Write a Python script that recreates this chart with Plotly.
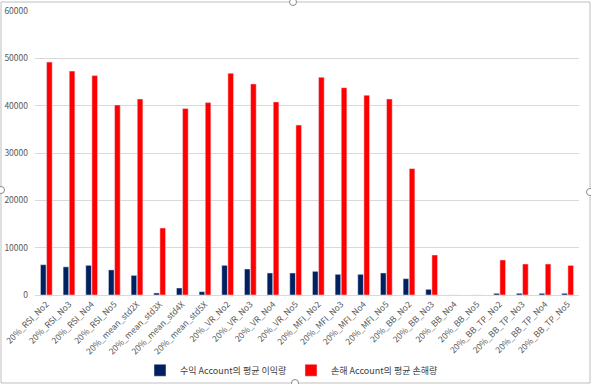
import plotly.graph_objects as go

categories = ["20%_RSI_No2", "20%_RSI_No3", "20%_RSI_No4", "20%_RSI_No5",
              "20%_mean_std2X", "20%_mean_std3X", "20%_mean_std4X", "20%_mean_std5X",
              "20%_VR_No2", "20%_VR_No3", "20%_VR_No4", "20%_VR_No5",
              "20%_MFI_No2", "20%_MFI_No3", "20%_MFI_No4", "20%_MFI_No5",
              "20%_BB_No2", "20%_BB_No3", "20%_BB_No4", "20%_BB_No5",
              "20%_BB_TP_No2", "20%_BB_TP_No3", "20%_BB_TP_No4", "20%_BB_TP_No5"]
profit = [6400, 5950, 6270, 5300, 4150, 420, 1480, 700,
          6270, 5490, 4650, 4650, 5000, 4370, 4370, 4650,
          3450, 1200, 0, 0, 350, 350, 350, 350]
loss = [49200, 47300, 46350, 40150, 41400, 14150, 39400, 40650,
        46850, 44600, 40800, 35900, 46000, 43800, 42200, 41400,
        26700, 8450, 0, 0, 7400, 6550, 6550, 6250]
series_names = ["수익 Account의 평균 이익량", "손해 Account의 평균 손해량"]
y_ticks = [0, 10000, 20000, 30000, 40000, 50000, 60000]

W, H = 591, 384
ML, MR, MT, MB = 35, 12, 11, 89
PW, PH = W - ML - MR, H - MT - MB


def px_x(p):
    return (p - ML) / PW


def px_y(p):
    return (H - MB - p) / PH


fig = go.Figure()
fig.add_trace(go.Bar(x=categories, y=profit, name=series_names[0], marker_color="#002060",
                     legend="legend"))
fig.add_trace(go.Bar(x=categories, y=loss, name=series_names[1], marker_color="#FF0000",
                     legend="legend2"))

shapes = [dict(type="rect", xref="paper", yref="paper",
               x0=px_x(1), x1=px_x(590), y0=px_y(383), y1=px_y(2),
               line=dict(color="#bfbfbf", width=1), fillcolor="rgba(0,0,0,0)", layer="below")]
r = 3.5
for hx, hy in [(293, 2), (590, 192), (1, 190), (295, 383)]:
    shapes.append(dict(type="circle", xref="paper", yref="paper",
                       x0=px_x(hx - r), x1=px_x(hx + r), y0=px_y(hy + r), y1=px_y(hy - r),
                       line=dict(color="#8c8c8c", width=1), fillcolor="white"))

legend_style = dict(orientation="h", xanchor="left", y=-0.265, yanchor="middle",
                    font=dict(size=9, color="#404040"), itemwidth=30,
                    bgcolor="rgba(0,0,0,0)")

fig.update_layout(
    width=W, height=H,
    margin=dict(l=ML, r=MR, t=MT, b=MB, autoexpand=False),
    paper_bgcolor="white", plot_bgcolor="white",
    font=dict(family="Noto Sans CJK KR, Noto Sans, sans-serif", size=9, color="#595959"),
    barmode="group", bargap=0.46, bargroupgap=0.08,
    showlegend=True,
    legend=dict(x=px_x(140), **legend_style),
    legend2=dict(x=px_x(291), **legend_style),
    shapes=shapes,
)
fig.update_xaxes(tickangle=-45, showgrid=False, showline=True, linecolor="#d9d9d9",
                 ticks="", automargin=False, tickfont=dict(size=8.5, color="#595959"))
fig.update_yaxes(range=[0, 60000], tickvals=y_ticks, tickformat="d", showgrid=True,
                 gridcolor="#d9d9d9", zeroline=False, showline=False, ticks="",
                 automargin=False, ticklabelstandoff=6,
                 tickfont=dict(size=8.5, color="#595959"))

fig.write_html("out.html", config={"displayModeBar": False},
               post_script="document.body.style.margin='0';document.body.style.overflow='hidden';")
